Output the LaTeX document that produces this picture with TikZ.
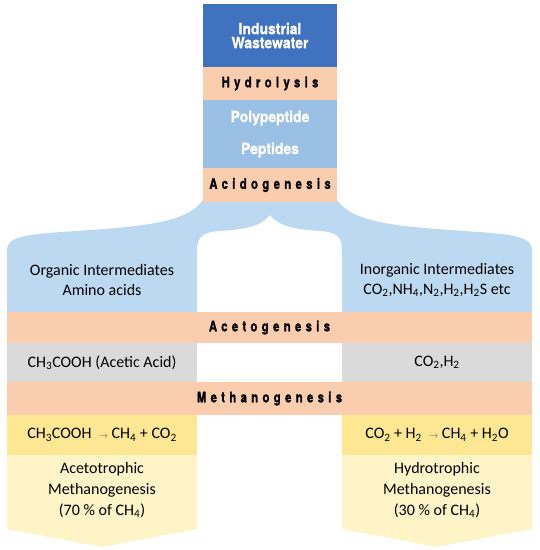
\documentclass[tikz,border=0pt]{standalone}
\usepackage{fontspec}
\setmainfont{Carlito}
\newfontfamily\bandfont[FakeStretch=0.78,FakeBold=1.2,LetterSpace=30]{TeX Gyre Heros}
\newfontfamily\titlefont[FakeStretch=0.9,FakeBold=0.8]{TeX Gyre Heros}
\usetikzlibrary{positioning}
\definecolor{DeepBlue}{HTML}{3F72BF}
\definecolor{Peach}{HTML}{FBCDAF}
\definecolor{SkyBlue}{HTML}{9AC0E6}
\definecolor{PaleBlue}{HTML}{BDD9F1}
\definecolor{Ash}{HTML}{DADADA}
\definecolor{Butter}{HTML}{FEE793}
\definecolor{Cream}{HTML}{FFF3C8}
\definecolor{ArrowGrey}{HTML}{5F5F5F}
\newcommand\chsub[1]{\textsubscript{#1}}
\newcommand\yields{\ {\color{ArrowGrey}\small$\rightarrow$}\ }

\begin{document}
\begin{tikzpicture}[x=1pt,y=-1pt,
      band/.style={fill=Peach,inner sep=0pt,minimum width=525pt,
                   font=\bandfont\bfseries\fontsize{14.5}{16}\selectfont},
      title/.style={fill=#1,inner sep=0pt,minimum width=134pt,align=center,text=white},
      body/.style={align=center,inner sep=0pt,font=\fontsize{16}{20}\selectfont},
      cell/.style={body,fill=#1,minimum width=190pt,minimum height=40pt}]
    \useasboundingbox (0,0) rectangle (540,550);
    % split of the stream after acidogenesis
    \fill[PaleBlue] (203,200) -- (337,200)
      .. controls (352,222) and (395,226) .. (450,230)
      .. controls (505,234) and (532,234) .. (532,250)
      -- (532,313) -- (342,313) -- (342,250)
      .. controls (342,236) and (336,232) .. (320,231)
      .. controls (292,229) and (279,226) .. (270,215)
      .. controls (261,226) and (248,229) .. (220,231)
      .. controls (204,232) and (197,236) .. (197,250)
      -- (197,313) -- (7,313) -- (7,250)
      .. controls (7,234) and (35,234) .. (90,230)
      .. controls (145,226) and (188,222) .. (203,200) -- cycle;
    \node[title=DeepBlue,minimum height=63pt,font=\titlefont\bfseries\fontsize{15.5}{14}\selectfont]
      (waste) at (270,35.5) {Industrial\\Wastewater};
    \node[band,minimum width=134pt,minimum height=33pt] (hydro) at (270,83.5) {Hydrolysis};
    \node[title=SkyBlue,minimum height=68pt,font=\titlefont\bfseries\fontsize{15.5}{32}\selectfont]
      (peptide) at (270,134) {Polypeptide\\Peptides};
    \node[band,minimum width=134pt,minimum height=34pt] (acido) at (270,185) {Acidogenesis};
    \node[body] (organic)   at (102,280) {Organic Intermediates\\Amino acids};
    \node[body] (inorganic) at (437,280) {Inorganic Intermediates\\CO\chsub2,NH\chsub4,N\chsub2,H\chsub2,H\chsub2S etc};
    \node[band,minimum height=31pt] (aceto) at (269.5,327.5) {Acetogenesis};
    \node[cell=Ash] (acetic) at (102,362.5) {CH\chsub3COOH (Acetic Acid)};
    \node[cell=Ash] (gases)  at (437,362.5) {CO\chsub2,H\chsub2};
    \node[band,minimum height=33pt] (methano) at (269.5,398.5) {Methanogenesis};
    \node[cell=Butter] (acetate) at (102,435) {CH\chsub3COOH \yields CH\chsub4 + CO\chsub2};
    \node[cell=Butter] (hydrogen) at (437,435) {CO\chsub2 + H\chsub2 \yields CH\chsub4 + H\chsub2O};
    % outcome arrows
    \fill[Cream] (7,455) -- (197,455) -- (197,529) -- (102,547) -- (7,529) -- cycle;
    \fill[Cream] (342,455) -- (532,455) -- (532,529) -- (437,547) -- (342,529) -- cycle;
    \node[body,font=\fontsize{16}{21}\selectfont] (acetotroph) at (102,490)
      {Acetotrophic\\Methanogenesis\\(70 \% of CH\chsub4)};
    \node[body,font=\fontsize{16}{21}\selectfont] (hydrotroph) at (437,490)
      {Hydrotrophic\\Methanogenesis\\(30 \% of CH\chsub4)};
  \end{tikzpicture}
\end{document}
